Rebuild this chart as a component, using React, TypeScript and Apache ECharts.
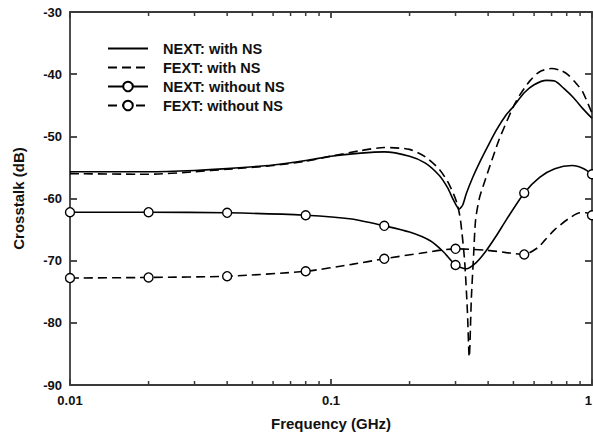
import React, { useEffect, useRef } from 'react';
import * as echarts from 'echarts';

const xTickLabels = ['0.01', '0.1', '1'];
const minorTickFreqs = [0.02, 0.03, 0.04, 0.05, 0.06, 0.07, 0.08, 0.09, 0.2, 0.3, 0.4, 0.5, 0.6, 0.7, 0.8, 0.9];
const markerFreqs = [0.01, 0.02, 0.04, 0.08, 0.16, 0.3, 0.55, 1.0];
const seriesNames = ['NEXT: with NS', 'FEXT: with NS', 'NEXT: without NS', 'FEXT: without NS'];

const nextWithFreq = [0.01, 0.02, 0.03, 0.04, 0.06, 0.08, 0.1, 0.13, 0.16, 0.2, 0.23, 0.26, 0.28, 0.295, 0.31, 0.32, 0.33, 0.35, 0.37, 0.4, 0.43, 0.47, 0.5, 0.55, 0.6, 0.67, 0.72, 0.78, 0.85, 0.92, 1.0];
const nextWithVal = [-55.7, -55.7, -55.5, -55.2, -54.6, -53.9, -53.2, -52.7, -52.5, -53.2, -54.3, -56.3, -58.3, -60.3, -61.7, -61.0, -59.2, -56.5, -54.3, -51.5, -49.0, -46.5, -45.2, -43.0, -41.7, -41.0, -41.1, -42.3, -43.8, -45.5, -47.1];

const fextWithFreq = [0.01, 0.02, 0.03, 0.04, 0.06, 0.08, 0.1, 0.13, 0.16, 0.2, 0.23, 0.26, 0.28, 0.295, 0.305, 0.3135, 0.325, 0.333, 0.3386, 0.345, 0.352, 0.358, 0.37, 0.39, 0.44, 0.5, 0.53, 0.58, 0.63, 0.7, 0.76, 0.81, 0.87, 0.92, 1.0];
const fextWithVal = [-56.0, -56.1, -55.7, -55.3, -54.7, -54.0, -53.2, -52.3, -51.8, -52.1, -53.3, -55.3, -57.3, -59.3, -61.0, -63.5, -70.0, -78.0, -85.5, -76.0, -69.0, -63.5, -60.0, -57.0, -50.6, -45.2, -43.3, -41.0, -39.6, -39.1, -39.4, -40.1, -41.5, -42.8, -46.3];

const nextWithoutFreq = [0.01, 0.02, 0.04, 0.08, 0.12, 0.16, 0.2, 0.24, 0.27, 0.3, 0.33, 0.36, 0.39, 0.43, 0.47, 0.55, 0.63, 0.72, 0.84, 0.93, 1.0];
const nextWithoutVal = [-62.2, -62.2, -62.3, -62.7, -63.3, -64.4, -65.4, -66.8, -68.6, -70.7, -71.3, -70.3, -68.6, -66.0, -63.4, -59.1, -56.6, -55.2, -54.7, -55.2, -56.1];

const fextWithoutFreq = [0.01, 0.02, 0.04, 0.08, 0.12, 0.16, 0.22, 0.3, 0.39, 0.47, 0.55, 0.62, 0.66, 0.72, 0.81, 0.9, 0.95, 1.0];
const fextWithoutVal = [-72.8, -72.7, -72.5, -71.7, -70.6, -69.7, -68.8, -68.1, -68.3, -68.7, -69.0, -67.9, -66.7, -65.0, -63.3, -62.3, -62.3, -62.7];

const FONT = '"Liberation Sans", Arial, sans-serif';
const AXIS_COLOR = '#3a3a3a';

function buildData(freqs: number[], vals: number[], withMarkers: boolean) {
  return freqs.map((f, i) => {
    const isMarker = withMarkers && markerFreqs.some((m) => Math.abs(m - f) < 1e-9);
    return isMarker ? { value: [f, vals[i]] } : { value: [f, vals[i]], symbol: 'none' };
  });
}

export default function App() {
  const ref = useRef<HTMLDivElement>(null);
  useEffect(() => {
    const chart = echarts.init(ref.current!, null, { renderer: 'svg' });
    const axisLine = { show: true, lineStyle: { color: AXIS_COLOR, width: 1.8 } };
    const lineBase = { type: 'line', smooth: 0.25, xAxisIndex: 0, yAxisIndex: 0, z: 3 };
    const markerStyle = { color: '#fff', borderColor: '#000', borderWidth: 1.4 };
    const option: any = {
      animation: false,
      backgroundColor: '#fff',
      grid: { left: 70, right: 1, top: 12, bottom: 53, containLabel: false, outerBoundsMode: 'none' },
      legend: {
        orient: 'vertical',
        left: 102,
        top: 36,
        itemWidth: 40,
        itemHeight: 12,
        itemGap: 4,
        textStyle: { fontFamily: FONT, fontSize: 14.5, fontWeight: 'bold', color: '#111', padding: [0, 0, 0, 10] },
        data: [
          { name: seriesNames[0], itemStyle: { opacity: 0 } },
          { name: seriesNames[1], itemStyle: { opacity: 0 } },
          { name: seriesNames[2] },
          { name: seriesNames[3] },
        ],
      },
      xAxis: [
        {
          type: 'log',
          logBase: 10,
          min: 0.01,
          max: 1,
          position: 'bottom',
          name: 'Frequency (GHz)',
          nameLocation: 'middle',
          nameGap: 31,
          nameTextStyle: { fontFamily: FONT, fontSize: 15, fontWeight: 'bold', color: '#111' },
          axisLine,
          axisTick: { show: true, inside: true, length: 6, lineStyle: { color: AXIS_COLOR, width: 1.8 } },
          axisLabel: {
            fontFamily: FONT,
            fontSize: 13,
            fontWeight: 'bold',
            color: '#111',
            margin: 9,
            alignMaxLabel: 'right',
            formatter: (v: number) => {
              const idx = Math.round(Math.log10(v) + 2);
              return xTickLabels[idx] ?? '';
            },
          },
          splitLine: { show: false },
        },
        {
          type: 'log',
          logBase: 10,
          min: 0.01,
          max: 1,
          position: 'top',
          axisLine,
          axisTick: { show: true, inside: true, length: 6, lineStyle: { color: AXIS_COLOR, width: 1.8 } },
          axisLabel: { show: false },
          splitLine: { show: false },
        },
      ],
      yAxis: [
        {
          type: 'value',
          min: -90,
          max: -30,
          interval: 10,
          position: 'left',
          name: 'Crosstalk (dB)',
          nameLocation: 'middle',
          nameGap: 44,
          nameTextStyle: { fontFamily: FONT, fontSize: 15, fontWeight: 'bold', color: '#111' },
          axisLine,
          axisTick: { show: true, inside: true, length: 7, lineStyle: { color: AXIS_COLOR, width: 1.8 } },
          axisLabel: { fontFamily: FONT, fontSize: 13, fontWeight: 'bold', color: '#111', margin: 8 },
          splitLine: { show: false },
        },
        {
          type: 'value',
          min: -90,
          max: -30,
          interval: 10,
          position: 'right',
          axisLine,
          axisTick: { show: true, inside: true, length: 7, lineStyle: { color: AXIS_COLOR, width: 1.8 } },
          axisLabel: { show: false },
          splitLine: { show: false },
        },
      ],
      series: [
        {
          ...lineBase,
          name: seriesNames[0],
          symbol: 'none',
          lineStyle: { color: '#000', width: 1.6, type: 'solid' },
          itemStyle: { color: '#000' },
          data: buildData(nextWithFreq, nextWithVal, false),
        },
        {
          ...lineBase,
          name: seriesNames[1],
          symbol: 'none',
          lineStyle: { color: '#000', width: 1.6, type: [9, 5] },
          itemStyle: { color: '#000' },
          data: buildData(fextWithFreq, fextWithVal, false),
        },
        {
          ...lineBase,
          name: seriesNames[2],
          symbol: 'circle',
          symbolSize: 9,
          showAllSymbol: true,
          lineStyle: { color: '#000', width: 1.6, type: 'solid' },
          itemStyle: markerStyle,
          z: 4,
          data: buildData(nextWithoutFreq, nextWithoutVal, true),
        },
        {
          ...lineBase,
          name: seriesNames[3],
          symbol: 'circle',
          symbolSize: 9,
          showAllSymbol: true,
          lineStyle: { color: '#000', width: 1.6, type: [9, 5] },
          itemStyle: markerStyle,
          z: 4,
          data: buildData(fextWithoutFreq, fextWithoutVal, true),
        },
        {
          type: 'custom',
          name: 'minorTicks',
          coordinateSystem: 'cartesian2d',
          xAxisIndex: 0,
          yAxisIndex: 0,
          silent: true,
          clip: false,
          z: 5,
          renderItem: (_params: any, api: any) => {
            const f = api.value(0);
            const b = api.coord([f, -90]);
            const t = api.coord([f, -30]);
            const style = { stroke: AXIS_COLOR, lineWidth: 1.5 };
            return {
              type: 'group',
              children: [
                { type: 'line', shape: { x1: b[0], y1: b[1], x2: b[0], y2: b[1] - 4 }, style },
                { type: 'line', shape: { x1: t[0], y1: t[1], x2: t[0], y2: t[1] + 4 }, style },
              ],
            };
          },
          data: minorTickFreqs.map((f) => [f, -90]),
        },
      ],
    };
    chart.setOption(option);
    return () => chart.dispose();
  }, []);
  return (
    <div
      ref={ref}
      style={{ position: 'fixed', left: 0, top: 0, width: 593, height: 438, background: '#fff' }}
    />
  );
}
